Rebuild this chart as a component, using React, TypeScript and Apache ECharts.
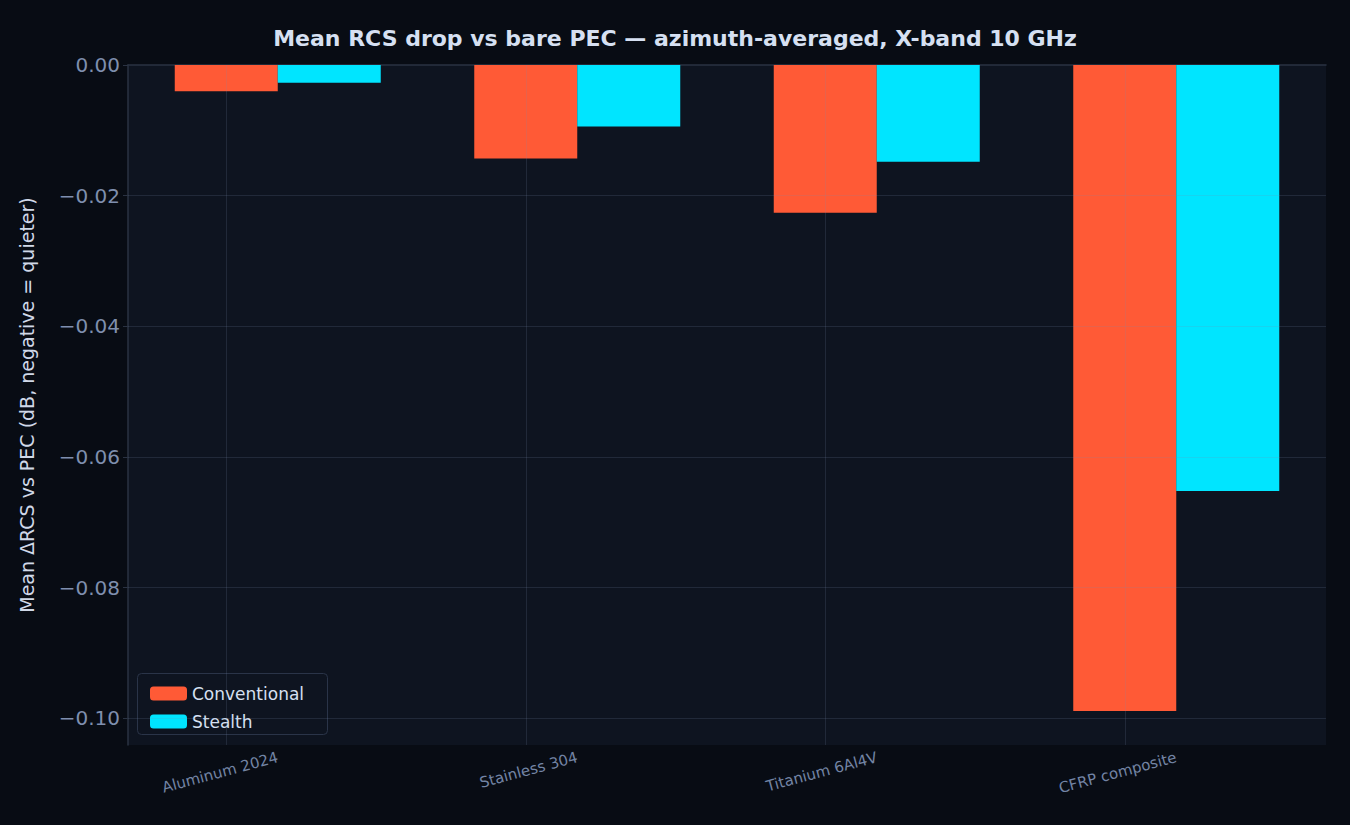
import { useRef, useEffect } from "react";
import * as echarts from "echarts";

const categories = ["Aluminum 2024", "Stainless 304", "Titanium 6Al4V", "CFRP composite"];
const conventional = [-0.004, -0.0143, -0.0226, -0.0989];
const stealth = [-0.0027, -0.0094, -0.0148, -0.0652];
const yTicks = [0, -0.02, -0.04, -0.06, -0.08, -0.1];

const fmt = (v: number) => (v === 0 ? "0.00" : "\u2212" + Math.abs(v).toFixed(2));

const App = () => {
  const chartRef = useRef<HTMLDivElement>(null);
  useEffect(() => {
    if (!chartRef.current) return;
    const chart = echarts.init(chartRef.current, undefined, { renderer: "svg" });
    const gridColor = "rgba(120,140,170,0.18)";
    chart.setOption({
      animation: false,
      backgroundColor: "#080c14",
      textStyle: { fontFamily: "DejaVu Sans" },
      title: {
        text: "Mean RCS drop vs bare PEC \u2014 azimuth-averaged, X-band 10 GHz",
        left: "center",
        top: 22,
        textStyle: { color: "#d6e0f2", fontSize: 22, fontWeight: "bold" },
      },
      grid: {
        left: 128, right: 24, top: 65, bottom: 80,
        show: true, backgroundColor: "#0e1420", borderWidth: 0,
      },
      legend: {
        orient: "vertical",
        left: 145, top: 680,
        itemWidth: 37, itemHeight: 14, itemGap: 11,
        textStyle: { color: "#d6e0f2", fontSize: 17 },
        data: ["Conventional", "Stealth"],
      },
      graphic: [
        {
          type: "rect", left: 137, top: 673, z: 0,
          shape: { width: 190, height: 61, r: 4 },
          style: { fill: "#0e1420", stroke: "#2a3448", lineWidth: 1 },
        },
      ],
      xAxis: {
        type: "category",
        data: categories,
        axisLine: { lineStyle: { color: "#2a3242", width: 1.5 } },
        axisTick: { show: false },
        axisLabel: { color: "#7384a4", fontSize: 15, rotate: 15, margin: 12 },
      },
      yAxis: {
        type: "value",
        min: -0.1041,
        max: 0,
        name: "Mean \u0394RCS vs PEC (dB, negative = quieter)",
        nameLocation: "middle",
        nameGap: 92,
        nameTextStyle: { color: "#d0d8e8", fontSize: 19 },
        axisLine: { show: true, lineStyle: { color: "#2a3242", width: 1.5 } },
        axisTick: { show: true, customValues: yTicks, lineStyle: { color: "#2a3242" } },
        axisLabel: {
          color: "#7f8fae", fontSize: 20, customValues: yTicks,
          formatter: (v: number) => fmt(v),
        },
        splitLine: { show: false },
      },
      series: [
        {
          name: "Conventional",
          type: "bar",
          data: conventional,
          barWidth: 103,
          barGap: "0%",
          itemStyle: { color: "#ff5a36" },
          markLine: {
            silent: true, symbol: "none", label: { show: false },
            lineStyle: { color: gridColor, type: "solid", width: 1 },
            data: [
              ...yTicks.slice(1).map((v) => ({ yAxis: v })),
              ...categories.map((c) => ({ xAxis: c })),
            ],
          },
        },
        {
          name: "Stealth",
          type: "bar",
          data: stealth,
          barWidth: 103,
          itemStyle: { color: "#00e5ff" },
        },
      ],
    });
    return () => chart.dispose();
  }, []);
  return <div ref={chartRef} style={{ width: 1350, height: 825, position: "absolute", left: 0, top: 0 }} />;
};

export default App;
